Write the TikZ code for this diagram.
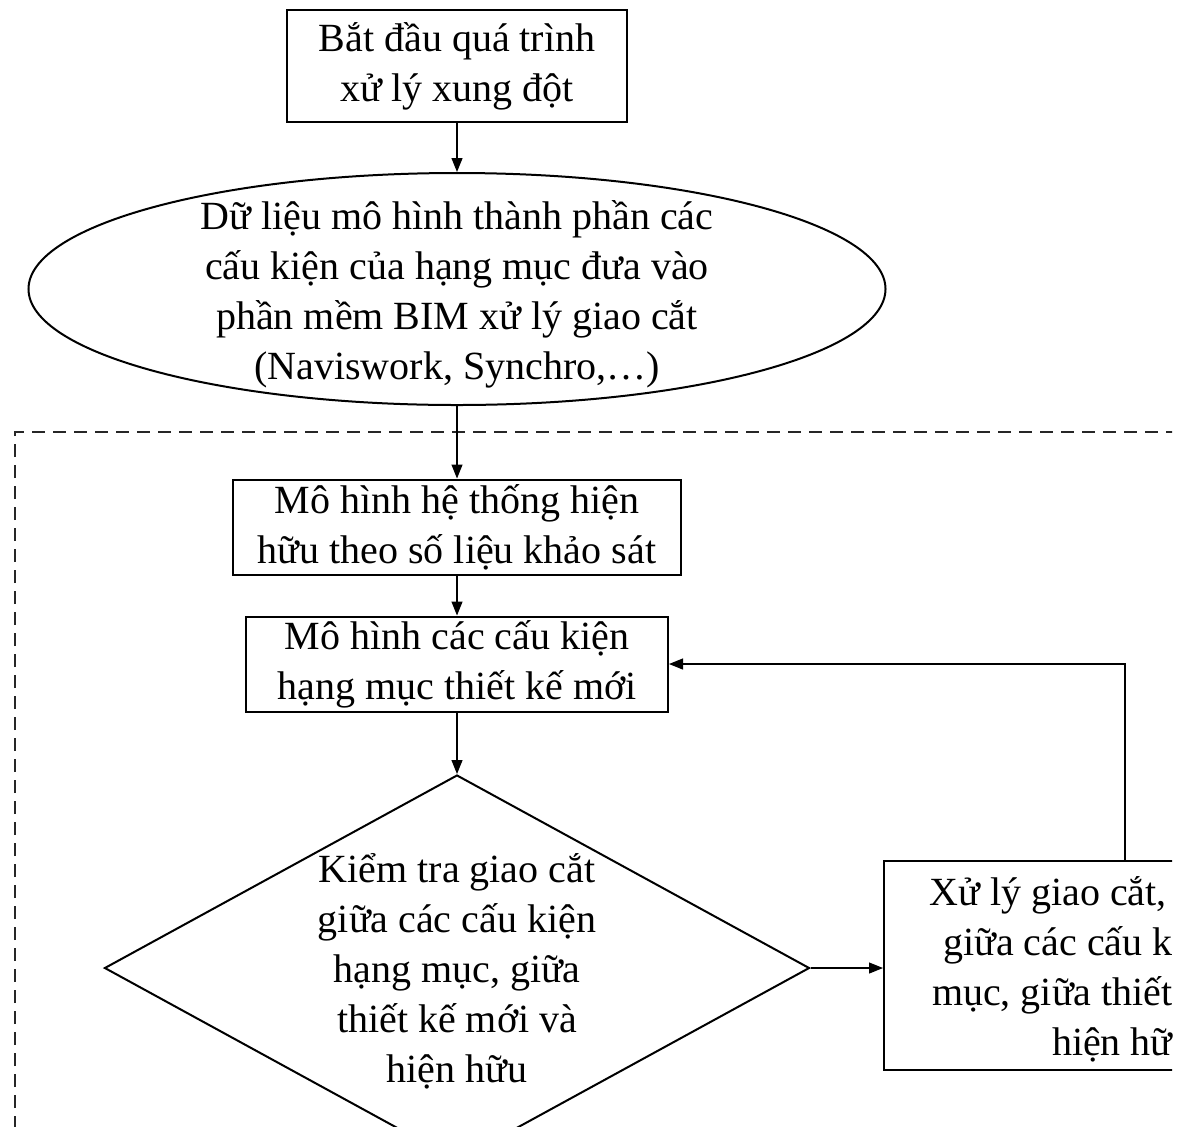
\documentclass[tikz,border=0pt]{standalone}
\usepackage{fontspec}
\setmainfont{Liberation Serif}
\usetikzlibrary{shapes.geometric,arrows.meta}
\tikzset{
  box/.style={draw, line width=1pt, rectangle, inner sep=0pt, align=center,
    font=\fontsize{20}{25}\selectfont},
  txt/.style={inner sep=0pt, align=center, font=\fontsize{20}{25}\selectfont},
  arr/.style={-{Triangle[length=7pt,width=5.5pt]}, line width=0.6pt}
}
\begin{document}
\begin{tikzpicture}[x=0.5pt, y=-0.5pt]
    \useasboundingbox (0,0) rectangle (1182,1126);
    \clip (0,0) rectangle (1172,1126);
    % Start box
    \node[box, minimum width=170pt, minimum height=56pt] (start) at (457,66) {Bắt đầu quá trình\\xử lý xung đột};
    % Input data (ellipse)
    \node[draw, ellipse, line width=1pt, inner sep=0pt, minimum width=428.5pt, minimum height=116pt] (input) at (457,289) {};
    \node[txt] (inputtext) at (457,294) {Dữ liệu mô hình thành phần các\\cấu kiện của hạng mục đưa vào\\phần mềm BIM xử lý giao cắt\\(Naviswork, Synchro,\ldots)};
    % Dashed frame
    \draw[line width=1.3pt, dash pattern=on 6.5pt off 4pt, black!85] (15,1150) |- (1200,432);
    % Existing and new models
    \node[box, minimum width=224pt, minimum height=47.5pt] (existing) at (457,527) {Mô hình hệ thống hiện\\hữu theo số liệu khảo sát};
    \node[box, minimum width=211pt, minimum height=47.5pt] (newmodel) at (457,664) {Mô hình các cấu kiện\\hạng mục thiết kế mới};
    % Clash check (diamond)
    \node[draw, diamond, line width=1pt, inner sep=0pt, minimum width=352.5pt, minimum height=193pt] (check) at (457,968) {};
    \node[txt] (checktext) at (457,971) {Kiểm tra giao cắt\\giữa các cấu kiện\\hạng mục, giữa\\thiết kế mới và\\hiện hữu};
    % Resolve box (runs off the right edge)
    \node[draw, line width=1pt, inner sep=0pt, minimum width=208pt, minimum height=104.5pt] (resolve) at (1092,965.5) {};
    \node[txt, align=right, anchor=east] (resolvetext) at (1173,969) {Xử lý giao cắt,\hspace*{3pt}\\giữa các cấu k\\mục, giữa thiết\hspace*{7pt}\\hiện hữ};
    \coordinate (backx) at (1125,0);
    % Arrows
    \draw[arr] (start) -- (input);
    \draw[arr] (input) -- (existing);
    \draw[arr] (existing) -- (newmodel);
    \draw[arr] (newmodel) -- (check);
    \draw[arr] (check.east) -- (check.east -| resolve.west);
    \draw[arr] (resolve.north -| backx) |- (newmodel.east);
\end{tikzpicture}
\end{document}
